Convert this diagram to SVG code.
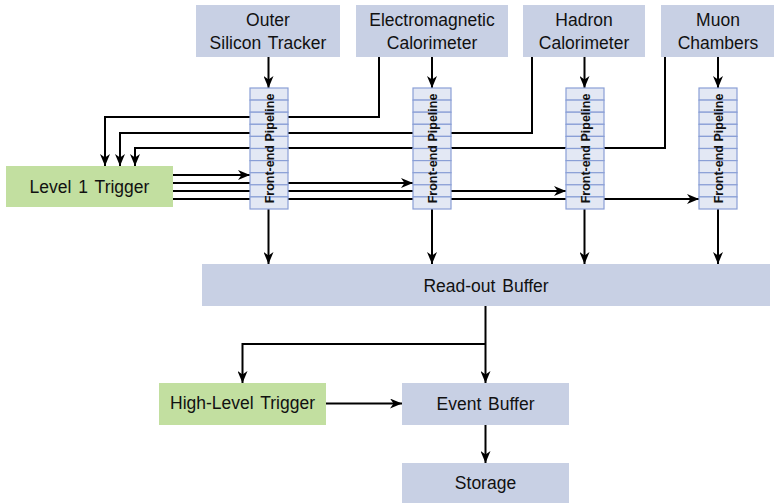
<svg xmlns="http://www.w3.org/2000/svg" width="774" height="503" viewBox="0 0 774 503">
  <style>
    .blue { fill: #c8d0e4; }
    .green { fill: #c2dfa0; }
    .lbl { font-family: "Liberation Sans", Arial, sans-serif; font-size: 17.5px; word-spacing: 2px; fill: #111; text-anchor: middle; }
    .cell { fill: #e3e8f4; stroke: #8a9fd6; stroke-width: 1.2; }
    .pipe { font-family: "Liberation Sans", Arial, sans-serif; font-size: 12.5px; font-weight: bold; fill: #111; text-anchor: middle; }
    .edge { fill: none; stroke: #000; stroke-width: 2; marker-end: url(#arrow); }
  </style>
  <defs>
    <marker id="arrow" markerUnits="userSpaceOnUse" viewBox="0 0 12 10" refX="12" refY="5" markerWidth="12" markerHeight="10" orient="auto">
      <path d="M0,0 L12,5 L0,10 L3.5,5 Z" fill="#000"/>
    </marker>
    <!-- a ten-slot pipeline column -->
    <g id="pipeline">
      <rect class="cell" x="0" y="0" width="38" height="12.1"/>
      <rect class="cell" x="0" y="12.1" width="38" height="12.1"/>
      <rect class="cell" x="0" y="24.2" width="38" height="12.1"/>
      <rect class="cell" x="0" y="36.3" width="38" height="12.1"/>
      <rect class="cell" x="0" y="48.4" width="38" height="12.1"/>
      <rect class="cell" x="0" y="60.5" width="38" height="12.1"/>
      <rect class="cell" x="0" y="72.6" width="38" height="12.1"/>
      <rect class="cell" x="0" y="84.7" width="38" height="12.1"/>
      <rect class="cell" x="0" y="96.8" width="38" height="12.1"/>
      <rect class="cell" x="0" y="108.9" width="38" height="12.1"/>
      <text class="pipe" transform="translate(23.5,60.5) rotate(-90)">Front-end Pipeline</text>
    </g>
  </defs>

  <rect width="774" height="503" fill="#fff"/>

  <g id="connectors">
    <!-- detectors into pipelines -->
    <path class="edge" d="M268.5,57 V88"/>
    <path class="edge" d="M432,57 V88"/>
    <path class="edge" d="M584.5,57 V88"/>
    <path class="edge" d="M718,57 V88"/>
    <!-- detector data to level 1 trigger -->
    <path class="edge" d="M379,57 V117 H105 V166"/>
    <path class="edge" d="M532,57 V133 H120 V166"/>
    <path class="edge" d="M665,57 V148 H135 V166"/>
    <!-- trigger decisions to pipelines -->
    <path class="edge" d="M173,175 H250"/>
    <path class="edge" d="M173,183 H413"/>
    <path class="edge" d="M173,191 H566"/>
    <path class="edge" d="M173,199 H699"/>
    <!-- pipelines into read-out buffer -->
    <path class="edge" d="M268.5,209 V264"/>
    <path class="edge" d="M432,209 V264"/>
    <path class="edge" d="M584.5,209 V264"/>
    <path class="edge" d="M718,209 V264"/>
    <!-- read-out and high level stage -->
    <path class="edge" d="M485.5,306 V383"/>
    <path class="edge" d="M485.5,344 H242.5 V383"/>
    <path class="edge" d="M326,403.5 H402"/>
    <path class="edge" d="M485.5,425 V463"/>
  </g>

  <g id="outer-tracker">
    <rect class="blue" x="196" y="5" width="144" height="52"/>
    <text class="lbl" x="268" y="26">Outer</text>
    <text class="lbl" x="268" y="49">Silicon Tracker</text>
  </g>
  <g id="em-calorimeter">
    <rect class="blue" x="356" y="5" width="152" height="52"/>
    <text class="lbl" x="432" y="26">Electromagnetic</text>
    <text class="lbl" x="432" y="49">Calorimeter</text>
  </g>
  <g id="hadron-calorimeter">
    <rect class="blue" x="523" y="5" width="122" height="52"/>
    <text class="lbl" x="584" y="26">Hadron</text>
    <text class="lbl" x="584" y="49">Calorimeter</text>
  </g>
  <g id="muon-chambers">
    <rect class="blue" x="661" y="5" width="114" height="52"/>
    <text class="lbl" x="718" y="26">Muon</text>
    <text class="lbl" x="718" y="49">Chambers</text>
  </g>

  <g id="pipeline-1"><use href="#pipeline" x="250" y="88"/></g>
  <g id="pipeline-2"><use href="#pipeline" x="413" y="88"/></g>
  <g id="pipeline-3"><use href="#pipeline" x="566" y="88"/></g>
  <g id="pipeline-4"><use href="#pipeline" x="699" y="88"/></g>

  <g id="level1-trigger">
    <rect class="green" x="6" y="166" width="167" height="41"/>
    <text class="lbl" x="89.5" y="192.5">Level 1 Trigger</text>
  </g>

  <g id="readout-buffer">
    <rect class="blue" x="202" y="264" width="568" height="42"/>
    <text class="lbl" x="486" y="291.5">Read-out Buffer</text>
  </g>

  <g id="high-level-trigger">
    <rect class="green" x="159" y="383" width="167" height="42"/>
    <text class="lbl" x="242.5" y="409">High-Level Trigger</text>
  </g>

  <g id="event-buffer">
    <rect class="blue" x="402" y="383" width="167" height="42"/>
    <text class="lbl" x="485.5" y="409.5">Event Buffer</text>
  </g>

  <g id="storage">
    <rect class="blue" x="402" y="463" width="167" height="40"/>
    <text class="lbl" x="485.5" y="489">Storage</text>
  </g>
</svg>
